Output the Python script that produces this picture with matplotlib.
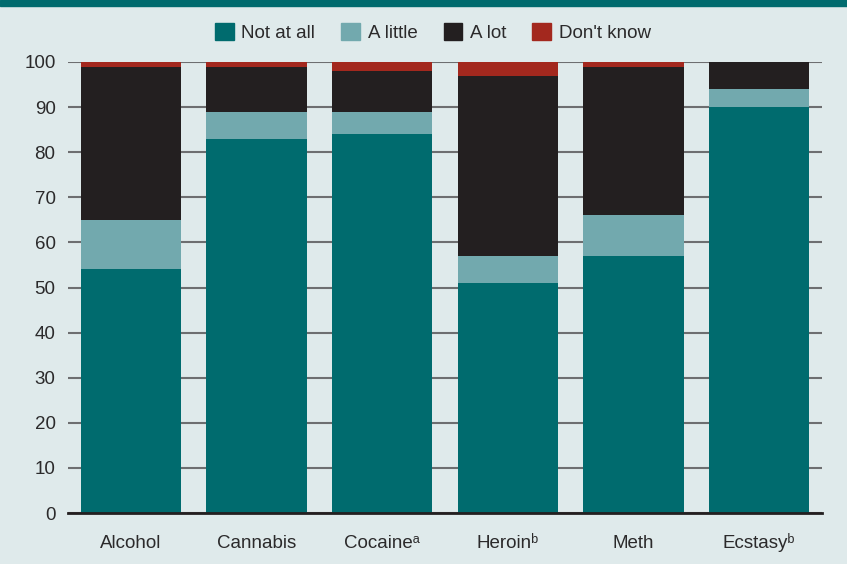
import matplotlib.pyplot as plt
import matplotlib.patches as mpatches
import numpy as np

categories = ["Alcohol", "Cannabis", "Cocaine", "Heroin", "Meth", "Ecstasy"]
superscripts = ["", "", "\u1d43", "\u1d47", "", "\u1d47"]
not_at_all = [54, 83, 84, 51, 57, 90]
a_little = [11, 6, 5, 6, 9, 4]
a_lot = [34, 10, 9, 40, 33, 6]
dont_know = [1, 1, 2, 3, 1, 0]

series_names = ["Not at all", "A little", "A lot", "Don't know"]
colors = ["#006b6e", "#72a9ae", "#231f20", "#a3281e"]
bg = "#dfeaeb"
txt = "#2b2a2b"

plt.rcParams['font.family'] = ['Liberation Sans Narrow', 'Liberation Sans', 'DejaVu Sans']

fig = plt.figure(figsize=(8.47, 5.64), dpi=100, facecolor=bg)
ax = fig.add_axes([68/847, 51/564, 754/847, 451/564])
ax.set_facecolor(bg)

# teal band at the top
fig.patches.append(mpatches.Rectangle((0, 1 - 6/564), 1, 6/564, transform=fig.transFigure,
                                      color=colors[0], zorder=0))

x = np.arange(len(categories))
bottom = np.zeros(len(categories))
for vals, name, c in zip([not_at_all, a_little, a_lot, dont_know], series_names, colors):
    ax.bar(x, vals, 0.8, bottom=bottom, color=c, label=name, zorder=3)
    bottom += np.array(vals)

ax.set_xlim(-0.5, 5.5)
ax.set_ylim(0, 100)
ax.set_yticks(range(0, 101, 10))
ax.yaxis.grid(True, color="#6d6e70", linewidth=1.5, zorder=1)
ax.set_axisbelow(True)
for s in ["top", "right", "left"]:
    ax.spines[s].set_visible(False)
ax.spines["bottom"].set_color("#231f20")
ax.spines["bottom"].set_linewidth(2)
ax.spines["bottom"].set_zorder(4)

labels = [c + s for c, s in zip(categories, superscripts)]
ax.set_xticks(x)
ax.set_xticklabels(labels)
for lab in ax.get_xticklabels():
    lab.set_va("baseline")
ax.tick_params(axis="x", length=0, pad=25, labelsize=13.5, colors=txt)
ax.tick_params(axis="y", length=0, pad=9, labelsize=13.5, colors=txt)

handles = [mpatches.Patch(color=c) for c in colors]
fig.legend(handles, series_names, loc="center", bbox_to_anchor=(0.511, 0.943), ncol=4,
           frameon=False, fontsize=13.5, handlelength=1.0, handleheight=1.0,
           handletextpad=0.4, columnspacing=1.4, labelcolor=txt)

fig.savefig("out.png", dpi=100, facecolor=bg)
